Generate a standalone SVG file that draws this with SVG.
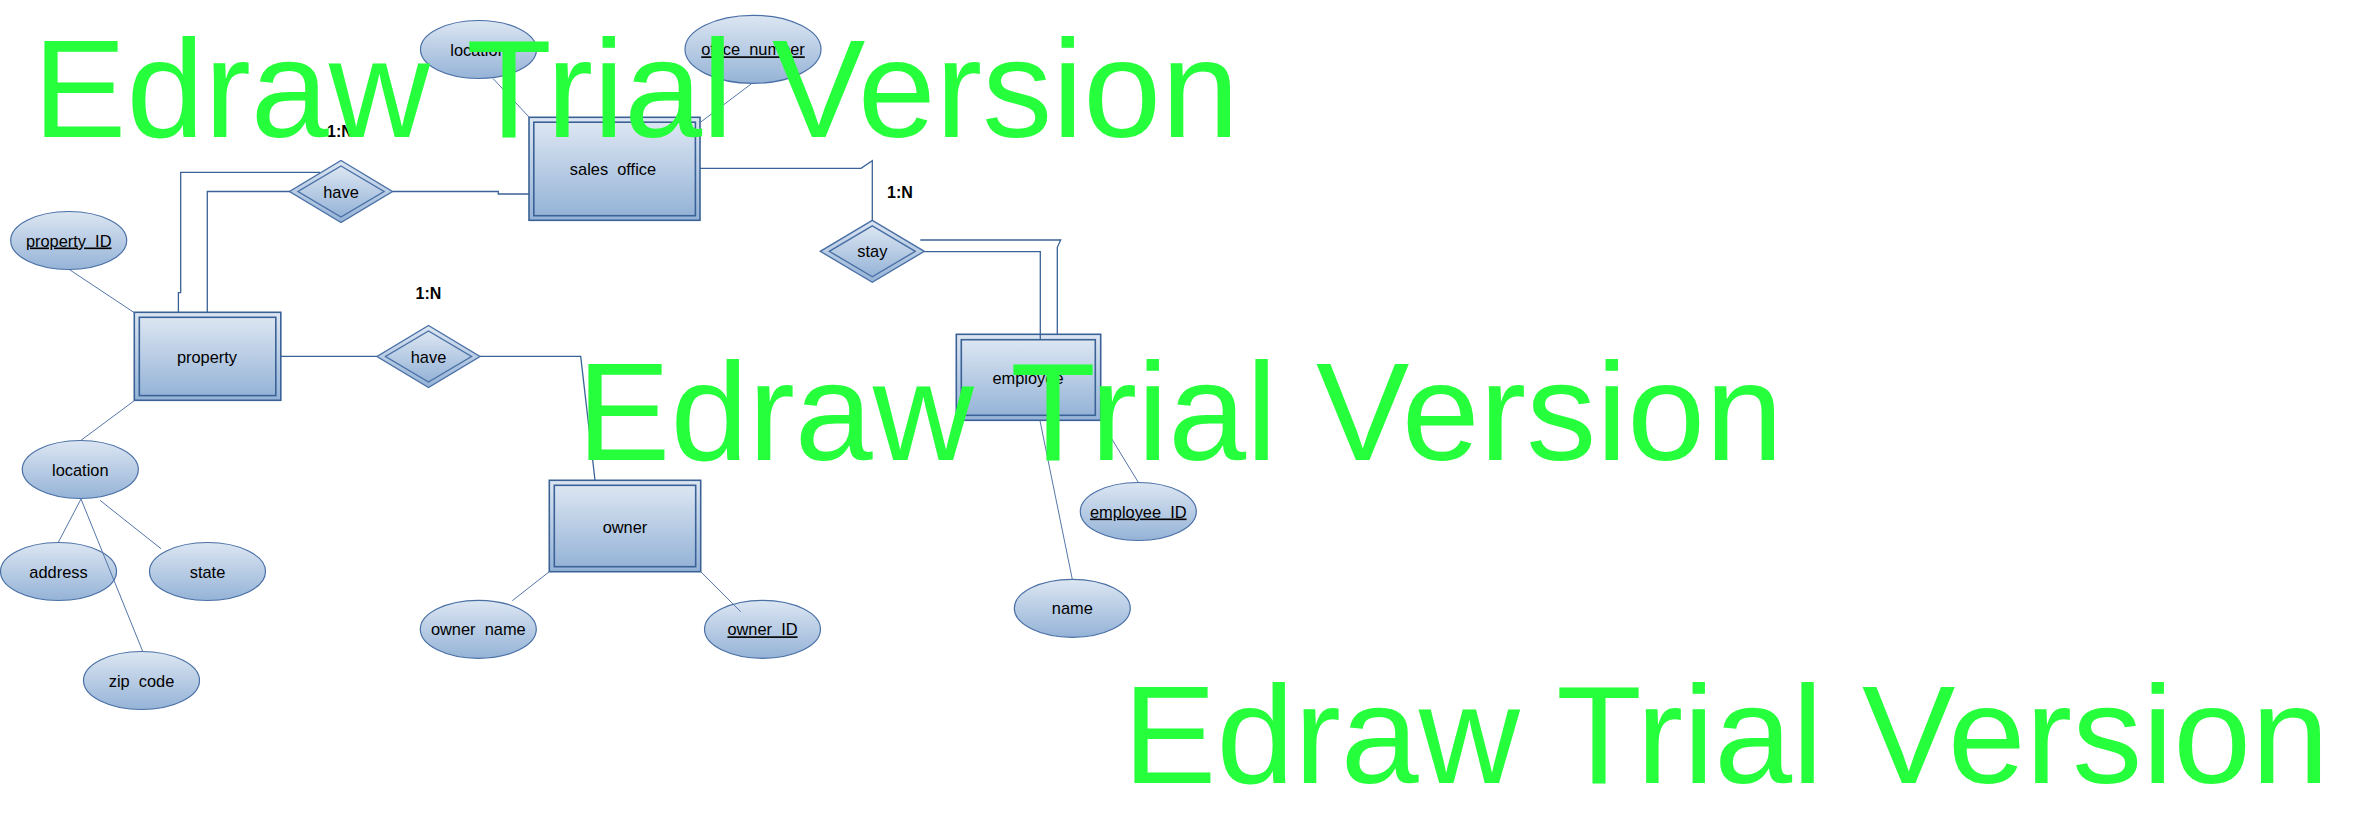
<svg xmlns="http://www.w3.org/2000/svg" width="2376" height="840" viewBox="0 0 2376 840">
<defs>
<linearGradient id="g" x1="0" y1="0" x2="0" y2="1">
<stop offset="0" stop-color="#DCE6F2"/>
<stop offset="1" stop-color="#95B3D7"/>
</linearGradient>
<style>
.ent{fill:url(#g);stroke:#3A6296;stroke-width:1.6}
.att{fill:url(#g);stroke:#4A70A6;stroke-width:1.2}
.rel{fill:url(#g);stroke:#4A70A6;stroke-width:1.4}
.lbl{font-family:"Liberation Sans",Arial,sans-serif;font-size:16.4px;fill:#000;text-anchor:middle;white-space:pre}
.key{text-decoration:underline}
.card{font-family:"Liberation Sans",Arial,sans-serif;font-size:16px;font-weight:bold;fill:#000}
.c1{fill:none;stroke:#3A6296;stroke-width:1.3}
.c2{fill:none;stroke:#5476A8;stroke-width:1}
.wm{font-family:"Liberation Sans",Arial,sans-serif;font-size:140px;fill:#26FF3B}
</style>
</defs>
<rect width="2376" height="840" fill="#fff"/>

<g id="sales_office">
<rect class="ent" x="529" y="117.3" width="171" height="103"/>
<rect class="ent" x="533.8" y="122.2" width="161.6" height="93.5"/>
<text class="lbl" x="613" y="175">sales  office</text>
</g>
<g id="property">
<rect class="ent" x="134.3" y="312.3" width="146.5" height="88"/>
<rect class="ent" x="139.3" y="317.3" width="136.5" height="78.3"/>
<text class="lbl" x="207" y="362.5">property</text>
</g>
<g id="owner">
<rect class="ent" x="549.3" y="480.3" width="151.4" height="91.4"/>
<rect class="ent" x="554.3" y="485.3" width="141.4" height="81.4"/>
<text class="lbl" x="625" y="533">owner</text>
</g>
<g id="employee">
<rect class="ent" x="956.3" y="334.3" width="144.4" height="86"/>
<rect class="ent" x="961.3" y="339.7" width="134" height="75.6"/>
<text class="lbl" x="1028" y="383.5">employee</text>
</g>

<g id="have_top">
<polygon class="rel" points="341,160.5 392.5,191.5 341,222.5 289.5,191.5"/>
<polygon class="rel" points="341,166 384,191.5 341,217 298,191.5"/>
<text class="lbl" x="341" y="197.5">have</text>
</g>
<g id="have_mid">
<polygon class="rel" points="428.5,325.5 480,356.5 428.5,387.5 377,356.5"/>
<polygon class="rel" points="428.5,331 471.5,356.5 428.5,382 385.5,356.5"/>
<text class="lbl" x="428.5" y="362.5">have</text>
</g>
<g id="stay">
<polygon class="rel" points="872.3,220.3 924.3,251.3 872.3,282.3 820.3,251.3"/>
<polygon class="rel" points="872.3,225.8 915.3,251.3 872.3,276.8 829.3,251.3"/>
<text class="lbl" x="872.3" y="257.3">stay</text>
</g>

<g id="location_office">
<ellipse class="att" cx="478.5" cy="49.5" rx="58" ry="29"/>
<text class="lbl" x="478.5" y="55.5">location</text>
</g>
<g id="office_number">
<ellipse class="att" cx="753" cy="49.3" rx="68" ry="34"/>
<text class="lbl key" x="753" y="55.3">office  number</text>
</g>
<g id="property_ID">
<ellipse class="att" cx="68.7" cy="240.5" rx="58" ry="29"/>
<text class="lbl key" x="68.7" y="246.5">property  ID</text>
</g>
<g id="location_property">
<ellipse class="att" cx="80.3" cy="469.5" rx="58" ry="29"/>
<text class="lbl" x="80.3" y="475.5">location</text>
</g>
<g id="address">
<ellipse class="att" cx="58.5" cy="571.5" rx="58" ry="29"/>
<text class="lbl" x="58.5" y="577.5">address</text>
</g>
<g id="state">
<ellipse class="att" cx="207.5" cy="571.5" rx="58" ry="29"/>
<text class="lbl" x="207.5" y="577.5">state</text>
</g>
<g id="zip_code">
<ellipse class="att" cx="141.5" cy="680.5" rx="58" ry="29"/>
<text class="lbl" x="141.5" y="686.5">zip  code</text>
</g>
<g id="owner_name">
<ellipse class="att" cx="478.3" cy="629.3" rx="58" ry="29"/>
<text class="lbl" x="478.3" y="635.3">owner  name</text>
</g>
<g id="owner_ID">
<ellipse class="att" cx="762.5" cy="629.3" rx="58" ry="29"/>
<text class="lbl key" x="762.5" y="635.3">owner  ID</text>
</g>
<g id="employee_ID">
<ellipse class="att" cx="1138.3" cy="511.5" rx="58" ry="29"/>
<text class="lbl key" x="1138.3" y="517.5">employee  ID</text>
</g>
<g id="name">
<ellipse class="att" cx="1072.3" cy="608.3" rx="58" ry="29"/>
<text class="lbl" x="1072.3" y="614.3">name</text>
</g>

<g id="connectors">
<path class="c1" d="M320,172.3 H180.7 V292.7 H178.4 V312.3"/>
<path class="c1" d="M290,191.5 H207.3 V312.3"/>
<path class="c1" d="M392.5,191.5 H498.3 V194 H529"/>
<path class="c1" d="M700,168.3 H861 L872.3,160.7 V220.3"/>
<path class="c1" d="M924.3,251.7 H1040.3 V340"/>
<path class="c1" d="M920.3,240 H1060.7 L1057.3,247.3 V334.3"/>
<path class="c1" d="M280.8,356.4 H377"/>
<path class="c1" d="M480,356.4 H580.7 L595,480.3"/>
<path class="c2" d="M493,78.5 L529.5,117.5"/>
<path class="c2" d="M752,83.3 L699.5,123"/>
<path class="c2" d="M134.3,312.7 L69,269.3"/>
<path class="c2" d="M134.3,400.7 L81,440.3"/>
<path class="c2" d="M81,499 L58.3,542.3"/>
<path class="c2" d="M81,499 L142.7,651.3"/>
<path class="c2" d="M100,500.3 L161,548.7"/>
<path class="c2" d="M549.3,571.7 L512.3,600.7"/>
<path class="c2" d="M700.7,571.7 L740.7,611.7"/>
<path class="c2" d="M1100.5,420.5 L1138.3,482.3"/>
<path class="c2" d="M1040,420.7 L1072.3,579.3"/>
</g>

<g id="cardinalities">
<text class="card" x="327" y="136.5">1:N</text>
<text class="card" x="415.5" y="298.5">1:N</text>
<text class="card" x="887" y="198.3">1:N</text>
</g>

<g id="watermarks">
<text class="wm" x="33" y="137">Edraw Trial Version</text>
<text class="wm" x="577" y="460">Edraw Trial Version</text>
<text class="wm" x="1123" y="783">Edraw Trial Version</text>
</g>
</svg>
